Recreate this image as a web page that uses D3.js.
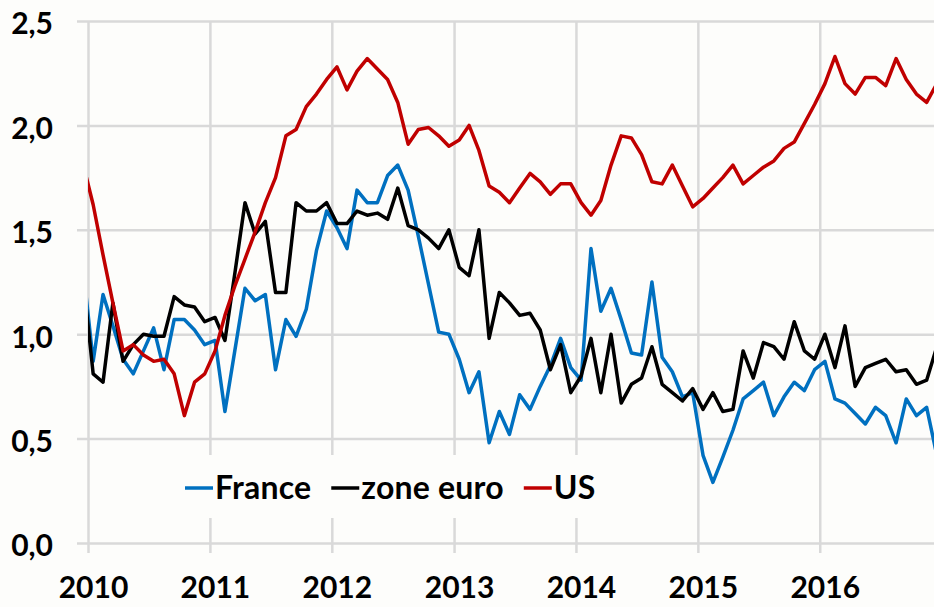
<!DOCTYPE html>
<html>
<head>
<meta charset="utf-8">
<script src="https://cdn.jsdelivr.net/npm/d3@7"></script>
<style>
  html, body { margin: 0; padding: 0; background: #fdfdfb; }
  svg { display: block; }
  .axis path.domain { display: none; }
  .axis text, .legend text {
    font-family: Lato, "Open Sans", sans-serif;
    font-weight: 700;
    font-size: 30px;
    fill: #000;
  }
  .legend text { font-size: 32px; letter-spacing: 0.2px; }
  .grid line { stroke: #d9d9d9; stroke-width: 2.5px; }
</style>
</head>
<body>
<svg id="chart"></svg>
<script>
// monthly series, first value is Dec 2009 (only its segment edge shows), last is Dec 2016
let firstMonth = new Date(2009, 11, 1);

let france = [1.33,
  0.87, 1.19, 1.04, 0.88, 0.81, 0.92, 1.03, 0.83, 1.07, 1.07, 1.02, 0.95,
  0.97, 0.63, 0.92, 1.22, 1.16, 1.19, 0.83, 1.07, 0.99, 1.12, 1.40, 1.59,
  1.51, 1.41, 1.69, 1.63, 1.63, 1.76, 1.81, 1.69, 1.47, 1.24, 1.01, 1.00,
  0.88, 0.72, 0.82, 0.48, 0.63, 0.52, 0.71, 0.64, 0.75, 0.85, 0.98, 0.84,
  0.78, 1.41, 1.11, 1.22, 1.07, 0.91, 0.90, 1.25, 0.89, 0.82, 0.70, 0.72,
  0.42, 0.29, 0.41, 0.54, 0.69, 0.73, 0.77, 0.61, 0.70, 0.77, 0.73, 0.83,
  0.87, 0.69, 0.67, 0.62, 0.57, 0.65, 0.61, 0.48, 0.69, 0.61, 0.65, 0.42];

let zoneEuro = [1.28,
  0.81, 0.77, 1.15, 0.87, 0.95, 1.00, 0.99, 0.99, 1.18, 1.14, 1.13, 1.06,
  1.08, 0.97, 1.29, 1.63, 1.48, 1.54, 1.20, 1.20, 1.63, 1.59, 1.59, 1.63,
  1.53, 1.53, 1.59, 1.57, 1.58, 1.55, 1.70, 1.52, 1.50, 1.46, 1.41, 1.50,
  1.32, 1.28, 1.50, 0.98, 1.20, 1.15, 1.09, 1.10, 1.02, 0.83, 0.95, 0.72,
  0.80, 0.98, 0.72, 1.00, 0.67, 0.76, 0.79, 0.94, 0.76, 0.72, 0.68, 0.74,
  0.64, 0.72, 0.63, 0.64, 0.92, 0.79, 0.96, 0.94, 0.88, 1.06, 0.92, 0.88,
  1.00, 0.84, 1.04, 0.75, 0.84, 0.86, 0.88, 0.82, 0.83, 0.76, 0.78, 0.94];

let us = [1.82,
  1.62, 1.38, 1.15, 0.92, 0.95, 0.90, 0.87, 0.88, 0.81, 0.61, 0.77, 0.81,
  0.92, 1.09, 1.23, 1.36, 1.49, 1.63, 1.75, 1.95, 1.98, 2.09, 2.15, 2.22,
  2.28, 2.17, 2.26, 2.32, 2.27, 2.22, 2.11, 1.91, 1.98, 1.99, 1.95, 1.90,
  1.93, 2.00, 1.88, 1.71, 1.68, 1.63, 1.70, 1.77, 1.73, 1.67, 1.72, 1.72,
  1.63, 1.57, 1.64, 1.81, 1.95, 1.94, 1.86, 1.73, 1.72, 1.81, 1.71, 1.61,
  1.65, 1.70, 1.75, 1.81, 1.72, 1.76, 1.80, 1.83, 1.89, 1.92, 2.01, 2.10,
  2.20, 2.33, 2.20, 2.15, 2.23, 2.23, 2.19, 2.32, 2.22, 2.15, 2.11, 2.20];

let seriesNames = ["France", "zone euro", "US"];
let seriesColors = ["#0070c0", "#000000", "#c00000"];
let yTicks = [0, 0.5, 1.0, 1.5, 2.0, 2.5];
let yearLabels = ["2010", "2011", "2012", "2013", "2014", "2015", "2016"];

let width = 934, height = 607;
let pad = { left: 88, right: 942, top: 21, bottom: 543, gridLeft: 77, tickBottom: 553 };

let svg = d3.select("#chart").attr("width", width).attr("height", height);

svg.append("rect").attr("width", width).attr("height", height).attr("fill", "#fdfdfb");

let xScale = d3.scaleTime()
    .domain([new Date(2010, 0, 1), new Date(2017, 0, 1)])
    .range([pad.left, pad.right]);

let yScale = d3.scaleLinear()
    .domain([0, 2.5])
    .range([pad.bottom, pad.top]);

let frLocale = d3.formatLocale({ decimal: ",", thousands: " ", grouping: [3], currency: ["", " €"] });

/* horizontal grid + y labels */
let yAxisG = svg.append("g")
    .attr("class", "axis grid")
    .attr("transform", "translate(" + pad.gridLeft + ",0)")
    .call(d3.axisLeft(yScale)
        .tickValues(yTicks)
        .tickSize(-(width - pad.gridLeft))
        .tickPadding(24)
        .tickFormat(frLocale.format(".1f")));
yAxisG.selectAll(".tick text").attr("dy", "0.43em");

/* vertical year grid */
let yearStarts = yearLabels.map(y => new Date(+y, 0, 1));
svg.append("g")
    .attr("class", "axis grid")
    .attr("transform", "translate(0," + pad.tickBottom + ")")
    .call(d3.axisBottom(xScale)
        .tickValues(yearStarts)
        .tickSize(-(pad.tickBottom - pad.top))
        .tickFormat(""));

/* year labels sit on the first (mid-January) point */
let yearMids = yearLabels.map(y => new Date(+y, 0, 16));
svg.append("g")
    .attr("class", "axis")
    .attr("transform", "translate(0," + pad.tickBottom + ")")
    .call(d3.axisBottom(xScale)
        .tickValues(yearMids)
        .tickSize(0)
        .tickPadding(24)
        .tickFormat(d3.timeFormat("%Y")));

/* legend box hides the grid behind it */
let legend = svg.append("g").attr("class", "legend");
legend.append("rect")
    .attr("x", 176).attr("y", 455)
    .attr("width", 430).attr("height", 63)
    .attr("fill", "#fdfdfb");

/* lines */
svg.append("clipPath").attr("id", "plotClip")
    .append("rect")
    .attr("x", pad.left).attr("y", 0)
    .attr("width", width - pad.left).attr("height", height);

let monthMid = i => {
    let m = d3.timeMonth.offset(firstMonth, i);
    let n = d3.timeMonth.offset(firstMonth, i + 1);
    return new Date((+m + +n) / 2);
};

let lineGen = d3.line()
    .x((v, i) => xScale(monthMid(i)))
    .y(v => yScale(v));

let lineWidth = 3.5;
[france, zoneEuro, us].forEach((values, k) => {
    svg.append("path")
        .datum(values)
        .attr("clip-path", "url(#plotClip)")
        .attr("fill", "none")
        .attr("stroke", seriesColors[k])
        .attr("stroke-width", lineWidth)
        .attr("stroke-linejoin", "round")
        .attr("d", lineGen);
});

/* legend items */
let legendX = 185;
let legendY = 488;
seriesNames.forEach((name, k) => {
    let item = legend.append("g").attr("transform", "translate(" + legendX + "," + legendY + ")");
    item.append("line")
        .attr("x1", 0).attr("x2", 28)
        .attr("y1", 0).attr("y2", 0)
        .attr("stroke", seriesColors[k])
        .attr("stroke-width", lineWidth);
    let label = item.append("text")
        .attr("x", 30)
        .attr("y", 11)
        .text(name);
    legendX += 30 + label.node().getComputedTextLength() + 20;
});
</script>
</body>
</html>
